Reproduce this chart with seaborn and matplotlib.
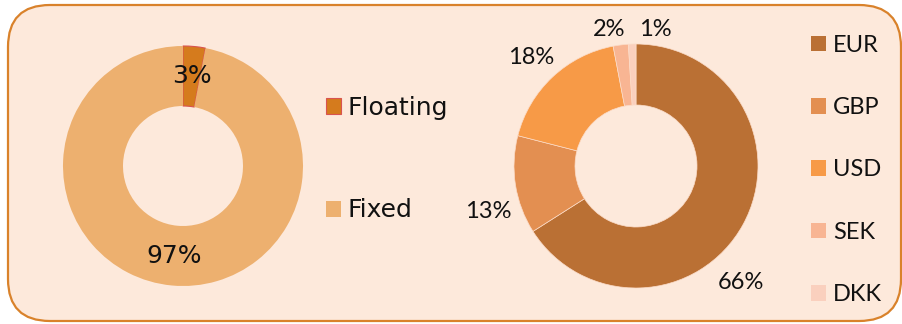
import matplotlib
matplotlib.use("Agg")
import matplotlib.pyplot as plt
import numpy as np
import seaborn as sns
from matplotlib.patches import FancyBboxPatch, Patch

# Interest-rate split
rate_labels = ["Floating", "Fixed"]
rate_values = [3, 97]
rate_colors = ["#D57B1D", "#EDB06F"]

# Currency split
ccy_labels = ["EUR", "GBP", "USD", "SEK", "DKK"]
ccy_values = [66, 13, 18, 2, 1]
ccy_colors = ["#BA7034", "#E38F51", "#F79A47", "#F8B593", "#FAD0BE"]
# label placement (radius in pie units, angle in degrees) for the currency pie
ccy_label_pos = [(1.28, -48), (1.27, 197), (1.24, 134), (1.14, 101), (1.13, 82)]

BG = "#FDE9DB"
BORDER = "#D9822B"
INK = "#111111"

sns.set_theme(style="white")
plt.rcParams["font.family"] = ["DejaVu Sans"]
plt.rcParams["text.color"] = INK

W, H = 903, 324
fig = plt.figure(figsize=(W / 100, H / 100), dpi=100)
fig.patch.set_facecolor("white")

# rounded panel behind both charts, drawn in pixel units
bg = fig.add_axes([0, 0, 1, 1], zorder=-5)
bg.set_xlim(0, W)
bg.set_ylim(0, H)
bg.axis("off")
bg.add_patch(FancyBboxPatch((8, 3), 893, 316,
                            boxstyle="round,pad=0,rounding_size=42",
                            facecolor=BG, edgecolor=BORDER, linewidth=1.6))


def pie_axes(cx, cy, r):
    ax = fig.add_axes([(cx - r) / W, (H - cy - r) / H, 2 * r / W, 2 * r / H])
    ax.set_facecolor("none")
    return ax


# ---- left donut: floating vs fixed ----
ax1 = pie_axes(183, 166, 120)
w1, _, t1 = ax1.pie(rate_values, colors=rate_colors, startangle=90, counterclock=False,
                    radius=1.0, wedgeprops=dict(width=0.5, linewidth=0),
                    autopct=lambda p: f"{p:.0f}%", pctdistance=0.75,
                    textprops=dict(fontsize=18, color=INK))
w1[0].set_edgecolor("#D9534F")
w1[0].set_linewidth(0.8)
ax1.set_xlim(-1, 1)
ax1.set_ylim(-1, 1)
ax1.set_aspect("equal")

fig.legend(handles=[Patch(facecolor=rate_colors[0], edgecolor="#D9534F", linewidth=0.8),
                    Patch(facecolor=rate_colors[1], edgecolor="none")],
           labels=rate_labels, loc="center left",
           bbox_to_anchor=(313 / W, (H - 159) / H), frameon=False,
           fontsize=18, handlelength=0.6, handleheight=0.6, handletextpad=0.3,
           labelspacing=3.15, borderpad=0, labelcolor=INK)

# ---- right donut: currency ----
ax2 = pie_axes(636, 166, 122)
w2, _ = ax2.pie(ccy_values, colors=ccy_colors, startangle=90, counterclock=False,
                radius=1.0, wedgeprops=dict(width=0.5, linewidth=0.5, edgecolor="#FCDCC8"))
ax2.set_xlim(-1, 1)
ax2.set_ylim(-1, 1)
ax2.set_aspect("equal")

for v, (rr, ang) in zip(ccy_values, ccy_label_pos):
    a = np.deg2rad(ang)
    ax2.text(rr * np.cos(a), rr * np.sin(a), f"{v}%", ha="center", va="center",
             fontsize=17, family=["Lato", "DejaVu Sans"], color=INK)

fig.legend(handles=[Patch(facecolor=c, edgecolor="none") for c in ccy_colors],
           labels=ccy_labels, loc="center left",
           bbox_to_anchor=(799 / W, (H - 170) / H), frameon=False,
           prop=dict(family=["Lato", "DejaVu Sans"], size=17),
           handlelength=0.65, handleheight=0.65, handletextpad=0.3,
           labelspacing=1.75, borderpad=0, labelcolor=INK)

fig.savefig("out.png", dpi=100, facecolor="white")
